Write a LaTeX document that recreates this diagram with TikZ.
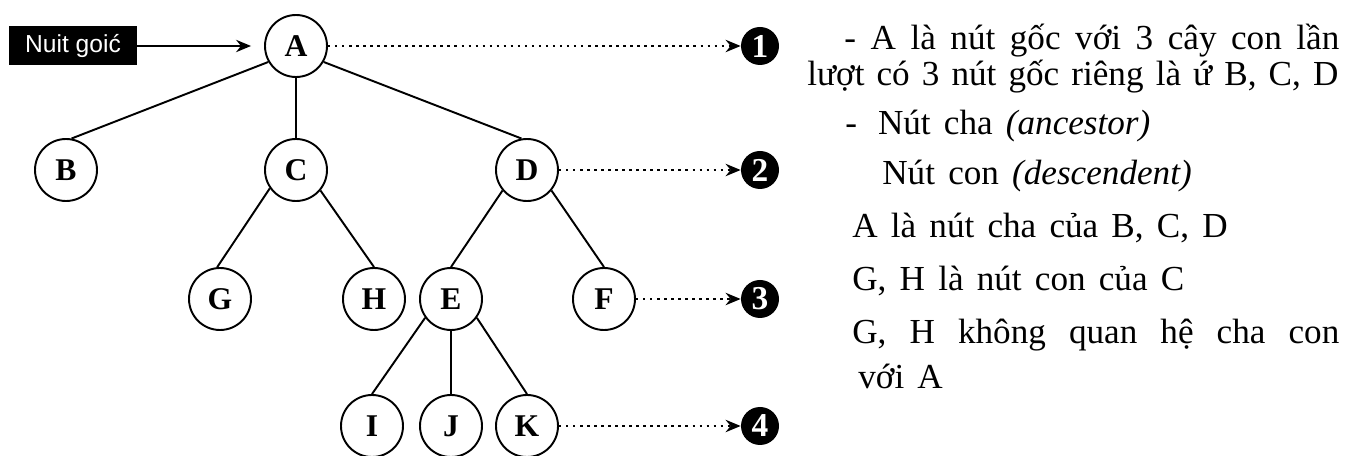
\documentclass[tikz,border=0pt]{standalone}
\usepackage{fontspec}
\setmainfont{Liberation Serif}
\setsansfont{Liberation Sans}
\newfontfamily\notefont[WordSpace=1.5]{Liberation Serif}
\usetikzlibrary{arrows.meta}

\tikzset{
  treenode/.style={draw, circle, line width=1.1pt, minimum size=1.24cm, inner sep=0pt,
    font=\fontsize{18}{18}\selectfont\bfseries},
  levelmark/.style={circle, fill=black, text=white, minimum size=0.76cm, inner sep=0pt,
    font=\fontsize{19}{19}\selectfont\bfseries},
  branch/.style={line width=1.1pt},
  levelarrow/.style={line width=1.4pt, dash pattern=on 1.4pt off 2.6pt,
    -{Stealth[length=8.5pt, width=7pt]}},
  note/.style={anchor=base west, inner sep=0pt, font=\notefont\fontsize{20}{24}\selectfont},
}

\begin{document}
\begin{tikzpicture}
  \useasboundingbox (0,0) rectangle (26.92,9.12);
  % tree nodes, one row per level
  \node[treenode] (A) at (5.92,8.2) {A};
  \node[treenode] (B) at (1.32,5.72) {B};
  \node[treenode] (C) at (5.92,5.72) {C};
  \node[treenode] (D) at (10.54,5.72) {D};
  \node[treenode] (G) at (4.4,3.14) {G};
  \node[treenode] (H) at (7.48,3.14) {H};
  \node[treenode] (E) at (9.02,3.14) {E};
  \node[treenode] (F) at (12.08,3.14) {F};
  \node[treenode] (I) at (7.44,0.6) {I};
  \node[treenode] (J) at (9.02,0.6) {J};
  \node[treenode] (K) at (10.54,0.6) {K};
  % branches
  \draw[branch] (A.210) -- (B.80);
  \draw[branch] (A.south) -- (C.north);
  \draw[branch] (A.330) -- (D.100);
  \draw[branch] (C.215) -- (G.95);
  \draw[branch] (C.-40) -- (H.north);
  \draw[branch] (D.-140) -- (E.north);
  \draw[branch] (D.-40) -- (F.north);
  \draw[branch] (E.216) -- (I.north);
  \draw[branch] (E.south) -- (J.north);
  \draw[branch] (E.-36) -- (K.north);
  % level markers
  \node[levelmark] (L1) at (15.2,8.2) {1};
  \node[levelmark] (L2) at (15.2,5.72) {2};
  \node[levelmark] (L3) at (15.2,3.14) {3};
  \node[levelmark] (L4) at (15.2,0.6) {4};
  \draw[levelarrow] (A) -- (L1);
  \draw[levelarrow] (D) -- (L2);
  \draw[levelarrow] (F) -- (L3);
  \draw[levelarrow] (K) -- (L4);
  % root label
  \node[fill=black, text=white, minimum width=2.56cm, minimum height=0.78cm, inner sep=0pt,
    font=\sffamily\fontsize{14}{15}\selectfont] (root) at (1.46,8.2) {Nuit goić};
  \draw[line width=1.1pt, -{Stealth[length=8.5pt, width=7pt]}, shorten >=0.26cm] (root) -- (A);
  % notes on the right
  \node[note] (n1) at (16.88,8.12) {\makebox[9.9cm][s]{- A là nút gốc với 3 cây con lần}};
  \node[note] (n2) at (16.14,7.4) {\makebox[10.62cm][s]{lượt có 3 nút gốc riêng là ứ B, C, D}};
  \node[note] (n3) at (16.9,6.42) {-\hspace{0.42cm}Nút cha \textit{(ancestor)}};
  \node[note] (n4) at (17.64,5.42) {Nút con \textit{(descendent)}};
  \node[note] (n5) at (17.04,4.36) {A là nút cha của B, C, D};
  \node[note] (n6) at (17.04,3.30) {G, H là nút con của C};
  \node[note] (n7) at (17.04,2.24) {\makebox[9.74cm][s]{G, H không quan hệ cha con}};
  \node[note] (n8) at (17.16,1.34) {với A};
\end{tikzpicture}
\end{document}
